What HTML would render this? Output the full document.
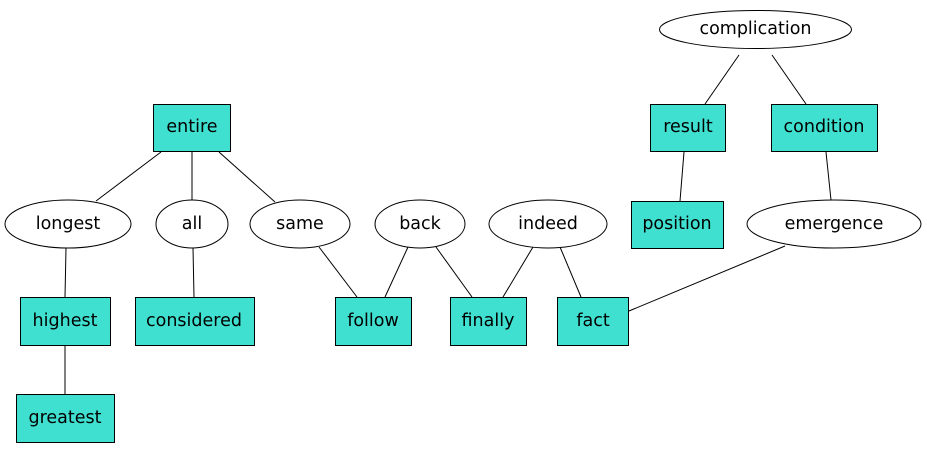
<!DOCTYPE html>
<html><head><meta charset="utf-8"><style>
html,body{margin:0;padding:0;background:#fff;}
svg text{font-family:"DejaVu Sans","Liberation Sans",sans-serif;font-size:17.5px;fill:#000;text-anchor:middle;dominant-baseline:central;}
</style></head><body>
<svg width="927" height="448" viewBox="0 0 927 448" xmlns="http://www.w3.org/2000/svg">
<g stroke="#000" stroke-width="1" fill="none">
<line x1="739" y1="55" x2="705" y2="104"/>
<line x1="772" y1="55" x2="806" y2="104"/>
<line x1="684" y1="152" x2="680" y2="201"/>
<line x1="826" y1="152" x2="831" y2="200"/>
<line x1="161" y1="152" x2="96" y2="201"/>
<line x1="192" y1="152" x2="192" y2="200"/>
<line x1="219" y1="152" x2="275" y2="202"/>
<line x1="66" y1="248" x2="65" y2="297"/>
<line x1="193" y1="248" x2="194" y2="297"/>
<line x1="319" y1="247" x2="357" y2="297"/>
<line x1="408" y1="247" x2="385" y2="297"/>
<line x1="436" y1="247" x2="472" y2="297"/>
<line x1="533" y1="247" x2="503" y2="297"/>
<line x1="560" y1="247" x2="581" y2="297"/>
<line x1="785" y1="246" x2="629" y2="311"/>
<line x1="65" y1="345" x2="65" y2="394"/>
</g>
<g stroke="#000" stroke-width="1" fill="#fff">
<ellipse cx="755.5" cy="29.5" rx="96" ry="19"/>
<ellipse cx="834" cy="224" rx="87" ry="24"/>
<ellipse cx="68" cy="224" rx="63" ry="24"/>
<ellipse cx="192" cy="224" rx="36" ry="24"/>
<ellipse cx="300" cy="224" rx="50" ry="24"/>
<ellipse cx="420" cy="224" rx="45" ry="24"/>
<ellipse cx="548" cy="224" rx="59" ry="24"/>
</g>
<g stroke="#000" stroke-width="1" fill="#40e0d0">
<rect x="650.5" y="104.5" width="75" height="47"/>
<rect x="771.5" y="104.5" width="106" height="47"/>
<rect x="631.5" y="201.5" width="92" height="47"/>
<rect x="153.5" y="104.5" width="77" height="47"/>
<rect x="20.5" y="297.5" width="90" height="48"/>
<rect x="135.5" y="297.5" width="119" height="48"/>
<rect x="335.5" y="297.5" width="76" height="48"/>
<rect x="450.5" y="297.5" width="76" height="48"/>
<rect x="557.5" y="297.5" width="71" height="48"/>
<rect x="16.5" y="394.5" width="98" height="48"/>
</g>
<text x="755.5" y="29">complication</text>
<text x="688" y="127">result</text>
<text x="824" y="127">condition</text>
<text x="677" y="224">position</text>
<text x="834" y="224">emergence</text>
<text x="192" y="127">entire</text>
<text x="68" y="224">longest</text>
<text x="192" y="224">all</text>
<text x="300" y="224">same</text>
<text x="420" y="224">back</text>
<text x="548" y="224">indeed</text>
<text x="65" y="321">highest</text>
<text x="194" y="321">considered</text>
<text x="373" y="321">follow</text>
<text x="488" y="321">finally</text>
<text x="593" y="321">fact</text>
<text x="65" y="418">greatest</text>
</svg>
</body></html>
